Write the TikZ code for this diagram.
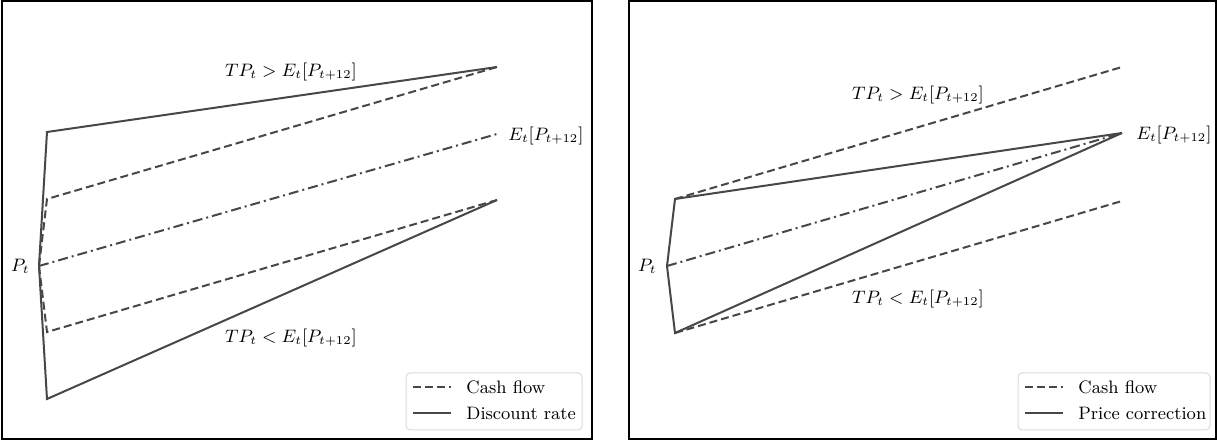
\documentclass[tikz,border=0pt]{standalone}
\begin{document}
\begin{tikzpicture}[x=0.5pt,y=-0.5pt,
  ln/.style={draw=black!72, line width=1pt, line join=miter},
  dsh/.style={ln, dash pattern=on 4pt off 2pt},
  dshdot/.style={ln, dash pattern=on 5pt off 2pt on 1pt off 2pt},
  frm/.style={draw=black, line width=0.8pt},
  lbl/.style={inner sep=1pt, font=\fontsize{9}{11}\selectfont},
  legbox/.style={draw=black!15, line width=0.5pt, rounded corners=2pt, fill=white}]
\useasboundingbox (0,0) rectangle (1217,442);
% frames
\draw[frm] (2,1) rectangle (592,439);
\draw[frm] (629,1) rectangle (1216,439);

% ---------- left panel ----------
\coordinate (LP) at (39,266);
\coordinate (LA) at (47,132);
\coordinate (LB) at (47,199);
\coordinate (LC) at (47,332);
\coordinate (LD) at (47,399);
\coordinate (LU) at (497,67);
\coordinate (LE) at (497,134);
\coordinate (LL) at (497,200);
\draw[dsh] (LP) -- (LB) -- (LU);
\draw[dsh] (LP) -- (LC) -- (LL);
\draw[ln] (LP) -- (LA) -- (LU);
\draw[ln] (LP) -- (LD) -- (LL);
\draw[dshdot] (LP) -- (LE);
\node[lbl, anchor=east] (lpt) at (32,266) {$P_t$};
\node[lbl, anchor=west] (lel) at (506,136) {$E_t[P_{t+12}]$};
\node[lbl] (lgt) at (291,72) {$TP_t > E_t[P_{t+12}]$};
\node[lbl] (llt) at (291,338) {$TP_t < E_t[P_{t+12}]$};
% legend
\draw[legbox] (406,373) rectangle (582,430);
\coordinate (lk1a) at (413,387); \coordinate (lk1b) at (451,387);
\coordinate (lk2a) at (413,413); \coordinate (lk2b) at (451,413);
\draw[dsh] (lk1a) -- (lk1b);
\draw[ln] (lk2a) -- (lk2b);
\node[lbl, anchor=west] (lt1) at (464,387) {Cash flow};
\node[lbl, anchor=west] (lt2) at (464,413) {Discount rate};

% ---------- right panel ----------
\coordinate (RP) at (667,266);
\coordinate (RA) at (675,199);
\coordinate (RC) at (675,333);
\coordinate (RU) at (1122,67);
\coordinate (RE) at (1122,133);
\coordinate (RL) at (1122,201);
\draw[dsh] (RA) -- (RU);
\draw[dsh] (RC) -- (RL);
\draw[ln] (RP) -- (RA) -- (RE);
\draw[ln] (RP) -- (RC) -- (RE);
\draw[dshdot] (RP) -- (RE);
\node[lbl, anchor=east] (rpt) at (659,266) {$P_t$};
\node[lbl, anchor=west] (rel) at (1134,135) {$E_t[P_{t+12}]$};
\node[lbl] (rgt) at (918,95) {$TP_t > E_t[P_{t+12}]$};
\node[lbl] (rlt) at (918,299) {$TP_t < E_t[P_{t+12}]$};
% legend
\draw[legbox] (1018,373) rectangle (1210,430);
\coordinate (rk1a) at (1025,387); \coordinate (rk1b) at (1063,387);
\coordinate (rk2a) at (1025,413); \coordinate (rk2b) at (1063,413);
\draw[dsh] (rk1a) -- (rk1b);
\draw[ln] (rk2a) -- (rk2b);
\node[lbl, anchor=west] (rt1) at (1076,387) {Cash flow};
\node[lbl, anchor=west] (rt2) at (1076,413) {Price correction};
\end{tikzpicture}
\end{document}
